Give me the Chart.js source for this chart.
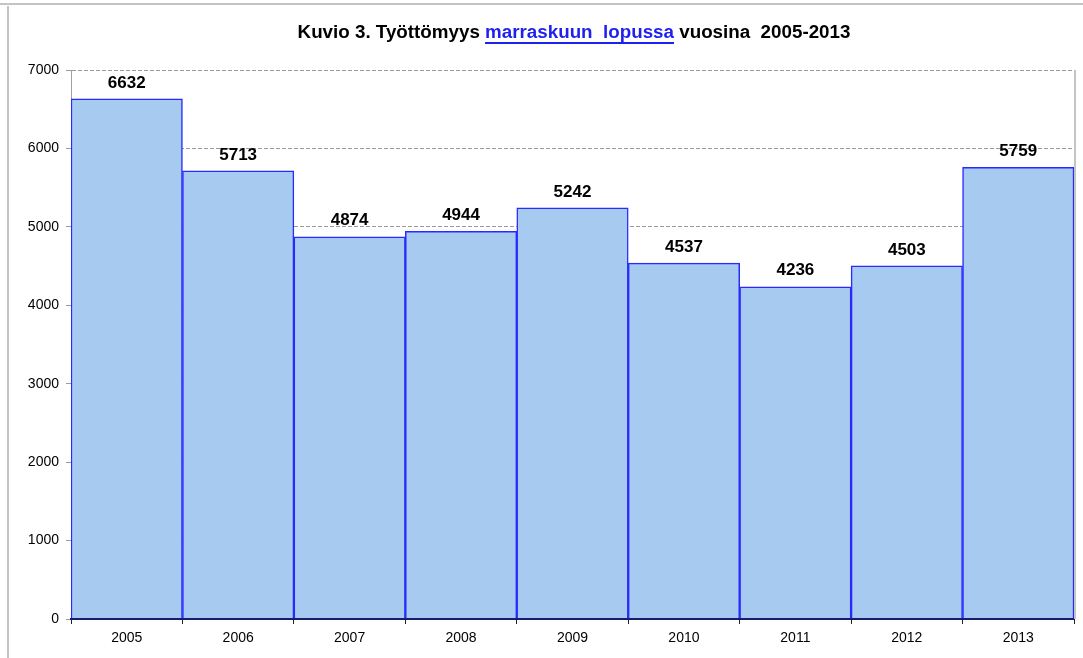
<!DOCTYPE html>
<html>
<head>
<meta charset="utf-8">
<script src="https://cdn.jsdelivr.net/npm/chart.js@4"></script>
<style>
  html, body { margin: 0; padding: 0; background: #fff; }
  #wrap { width: 1083px; height: 658px; position: relative; }
</style>
</head>
<body>
<div id="wrap"><canvas id="myChart"></canvas></div>
<script>
const years = ['2005', '2006', '2007', '2008', '2009', '2010', '2011', '2012', '2013'];
const unemployed = [6632, 5713, 4874, 4944, 5242, 4537, 4236, 4503, 5759];
const yTicks = [0, 1000, 2000, 3000, 4000, 5000, 6000, 7000];

const titleParts = [
    { text: 'Kuvio 3. Työttömyys ', color: '#000' },
    { text: 'marraskuun  lopussa', color: '#1f1fee', underline: true },
    { text: ' vuosina  2005-2013', color: '#000' }
];

// frame, title, value labels
const decor = {
    id: 'decor',
    beforeDraw(chart) {
        const ctx = chart.ctx;
        ctx.save();
        ctx.strokeStyle = '#c4c4c4';
        ctx.lineWidth = 2;
        ctx.beginPath();
        ctx.moveTo(0, 4); ctx.lineTo(1083, 4);
        ctx.moveTo(8, 6); ctx.lineTo(8, 658);
        ctx.stroke();
        ctx.restore();
    },
    afterDatasetsDraw(chart) {
        const ctx = chart.ctx;
        const area = chart.chartArea;
        ctx.save();
        // right side line
        ctx.strokeStyle = '#c4c4c4';
        ctx.lineWidth = 2;
        ctx.beginPath();
        ctx.moveTo(area.right + 1, area.top);
        ctx.lineTo(area.right + 1, area.bottom);
        ctx.stroke();

        // x axis line on top of bars
        ctx.strokeStyle = '#1a1a6e';
        ctx.lineWidth = 2;
        ctx.beginPath();
        ctx.moveTo(area.left, area.bottom);
        ctx.lineTo(area.right, area.bottom);
        ctx.stroke();

        // title
        ctx.font = 'bold 18.8px "Liberation Sans", Arial, sans-serif';
        ctx.textBaseline = 'middle';
        ctx.textAlign = 'left';
        let total = 0;
        titleParts.forEach(p => total += ctx.measureText(p.text).width);
        let x = 574 - total / 2;
        const y = 33;
        titleParts.forEach(p => {
            const w = ctx.measureText(p.text).width;
            ctx.fillStyle = p.color;
            ctx.fillText(p.text, x, y);
            if (p.underline) {
                ctx.strokeStyle = p.color;
                ctx.lineWidth = 2;
                ctx.beginPath();
                ctx.moveTo(x, y + 10);
                ctx.lineTo(x + w, y + 10);
                ctx.stroke();
            }
            x += w;
        });

        // value labels
        const meta = chart.getDatasetMeta(0);
        ctx.font = 'bold 17px "Liberation Sans", Arial, sans-serif';
        ctx.fillStyle = '#000';
        ctx.textAlign = 'center';
        meta.data.forEach((bar, i) => {
            ctx.fillText(unemployed[i], bar.x, bar.y - 16);
        });
        ctx.restore();
    }
};

const data = {
    labels: years,
    datasets: [{
        label: 'Työttömyys',
        data: unemployed,
        backgroundColor: '#a6caf0',
        borderColor: '#2a2aff',
        borderWidth: 1.5,
        categoryPercentage: 1.0,
        barPercentage: 1.0
    }]
};

new Chart(document.getElementById('myChart'), {
    type: 'bar',
    data: data,
    options: {
        responsive: true,
        maintainAspectRatio: false,
        animation: false,
        layout: { padding: { left: 8, top: 70, right: 9, bottom: 0 } },
        plugins: {
            legend: { display: false },
            title: { display: false },
            tooltip: { enabled: false }
        },
        scales: {
            x: {
                grid: {
                    offset: true,
                    drawOnChartArea: false,
                    tickLength: 5,
                    color: '#222'
                },
                border: { color: '#1a1a6e', width: 2 },
                ticks: {
                    color: '#000',
                    font: { family: '"Liberation Sans", Arial', size: 14 },
                    padding: 6
                },
                afterFit(scale) { scale.height = 39; }
            },
            y: {
                min: 0,
                max: 7000,
                afterBuildTicks(scale) { scale.ticks = yTicks.map(v => ({ value: v })); },
                grid: {
                    color: '#9a9a9a',
                    tickColor: '#9a9a9a',
                    tickLength: 5,
                    lineWidth: 1,
                    tickBorderDash: []
                },
                border: { color: '#a0a0a0', width: 1, dash: [4, 2] },
                ticks: {
                    color: '#000',
                    font: { family: '"Liberation Sans", Arial', size: 14 },
                    padding: 7,
                    callback: v => String(v)
                },
                afterFit(scale) { scale.width = 63; }
            }
        }
    },
    plugins: [decor]
});
</script>
</body>
</html>
